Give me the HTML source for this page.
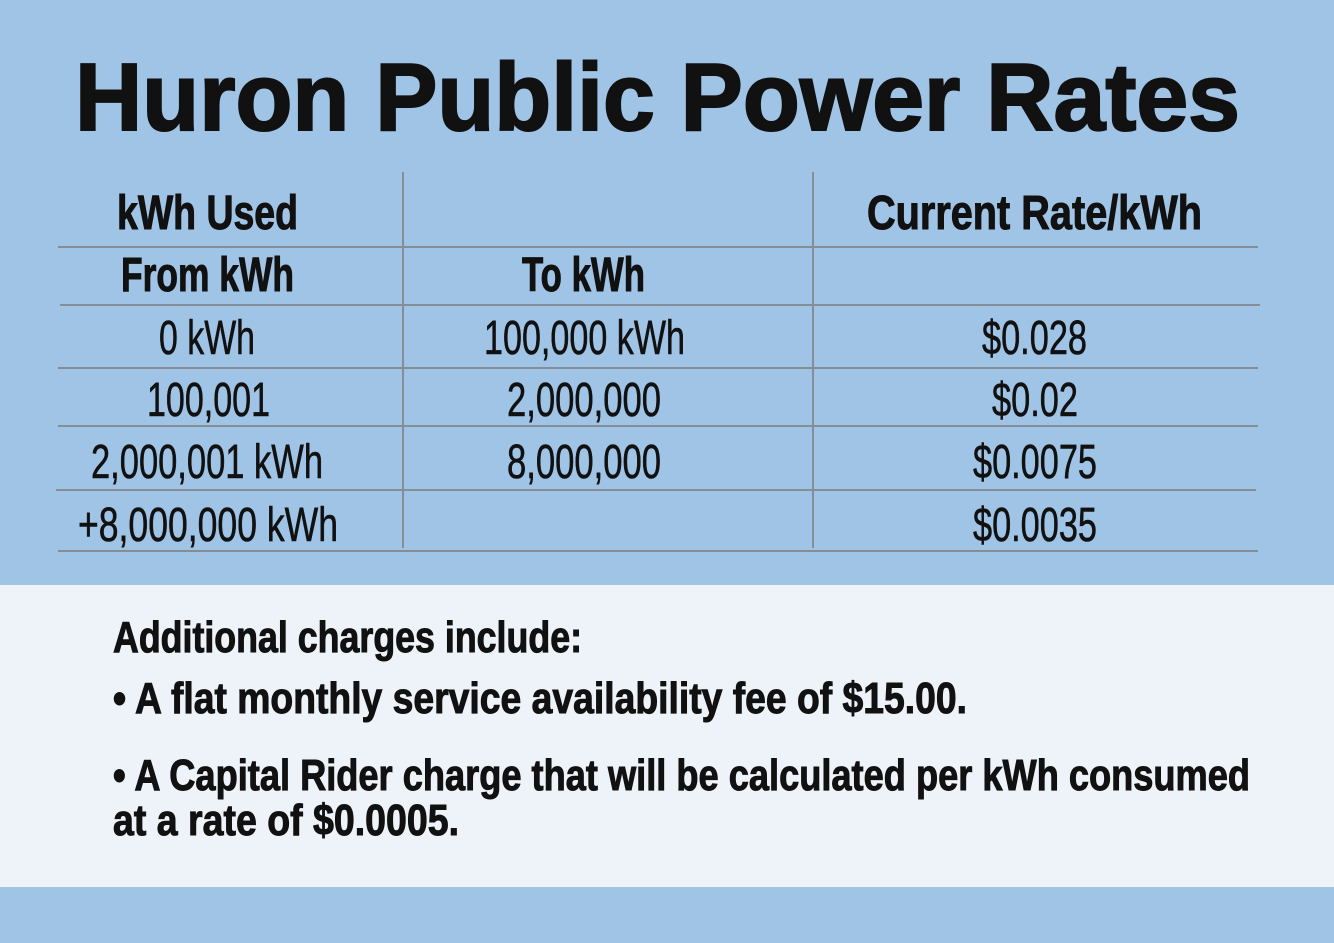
<!DOCTYPE html>
<html><head><meta charset="utf-8"><style>
html,body{margin:0;padding:0;background:#a0c4e6;}
svg{display:block;}
text{font-family:"Liberation Sans",sans-serif;fill:#111;stroke:#111;stroke-width:0.6;}
.b{font-weight:bold;stroke-width:1;}
.t{stroke-width:2;}
</style></head><body>
<svg width="1334" height="943" viewBox="0 0 1334 943" xmlns="http://www.w3.org/2000/svg">
<rect x="0" y="0" width="1334" height="943" fill="#a0c4e6"/>
<rect x="0" y="585" width="1334" height="302" fill="#eef3fa"/>
<text class="b t" x="75" y="130" font-size="96" textLength="1165" lengthAdjust="spacingAndGlyphs">Huron Public Power Rates</text>
<g stroke="#858d96" stroke-width="2">
<line x1="58" y1="247" x2="1258" y2="247"/>
<line x1="60" y1="305" x2="1260" y2="305"/>
<line x1="58" y1="368" x2="1258" y2="368"/>
<line x1="58" y1="426" x2="1258" y2="426"/>
<line x1="56" y1="490" x2="1256" y2="490"/>
<line x1="58" y1="551" x2="1258" y2="551"/>
<line x1="403" y1="172" x2="403" y2="548"/>
<line x1="813" y1="172" x2="813" y2="548"/>
</g>
<g font-size="48">
<text class="b" x="117" y="229" textLength="181" lengthAdjust="spacingAndGlyphs">kWh Used</text>
<text class="b" x="867" y="229" textLength="335" lengthAdjust="spacingAndGlyphs">Current Rate/kWh</text>
<text class="b" x="121" y="291" textLength="173" lengthAdjust="spacingAndGlyphs">From kWh</text>
<text class="b" x="522" y="291" textLength="123" lengthAdjust="spacingAndGlyphs">To kWh</text>
<text x="159" y="354" textLength="96" lengthAdjust="spacingAndGlyphs">0 kWh</text>
<text x="484" y="354" textLength="201" lengthAdjust="spacingAndGlyphs">100,000 kWh</text>
<text x="982" y="354" textLength="105" lengthAdjust="spacingAndGlyphs">$0.028</text>
<text x="147" y="416" textLength="123" lengthAdjust="spacingAndGlyphs">100,001</text>
<text x="507" y="416" textLength="154" lengthAdjust="spacingAndGlyphs">2,000,000</text>
<text x="992" y="416" textLength="86" lengthAdjust="spacingAndGlyphs">$0.02</text>
<text x="91" y="478" textLength="232" lengthAdjust="spacingAndGlyphs">2,000,001 kWh</text>
<text x="507" y="478" textLength="154" lengthAdjust="spacingAndGlyphs">8,000,000</text>
<text x="973" y="478" textLength="124" lengthAdjust="spacingAndGlyphs">$0.0075</text>
<text x="78" y="541" textLength="260" lengthAdjust="spacingAndGlyphs">+8,000,000 kWh</text>
<text x="973" y="541" textLength="124" lengthAdjust="spacingAndGlyphs">$0.0035</text>
</g>
<g font-size="44">
<text class="b" x="113" y="652" textLength="469" lengthAdjust="spacingAndGlyphs">Additional charges include:</text>
<text class="b" x="113" y="713" textLength="854" lengthAdjust="spacingAndGlyphs">•  A flat monthly service availability fee of $15.00.</text>
<text class="b" x="113" y="790" textLength="1137" lengthAdjust="spacingAndGlyphs">•  A Capital Rider charge that will be calculated per kWh consumed</text>
<text class="b" x="113" y="835" textLength="346" lengthAdjust="spacingAndGlyphs">at a rate of $0.0005.</text>
</g>
</svg>
</body></html>
